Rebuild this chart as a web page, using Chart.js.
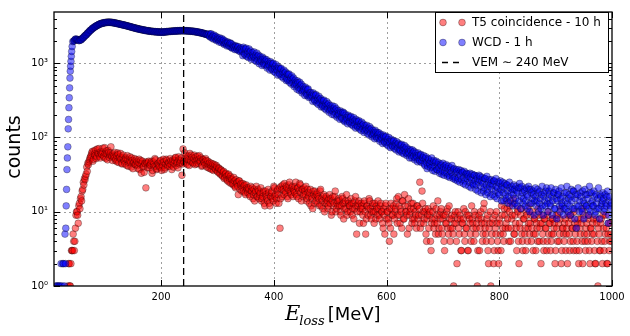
<!DOCTYPE html>
<html><head><meta charset="utf-8">
<script src="https://cdn.jsdelivr.net/npm/chart.js@4.4.1/dist/chart.umd.min.js"></script>
<style>html,body{margin:0;padding:0;background:#fff;}#wrap{width:630px;height:336px;}</style>
</head><body><div id="wrap"><canvas id="c" width="630" height="336"></canvas></div>
<script>
// Energy bins (MeV), 1 MeV wide. Counts are stored in two interleaved lists:
// "Odd" lists hold bin centres 11, 13, ..., 999 ; "Even" lists hold 12, 14, ..., 998.
const oddStart = 11;
const evenStart = 12;
const gridStep = 2;

// T5 coincidence - 10 h (null = empty bin)
const t5CountsOdd = [
null,null,null,null,null,null,null,null,null,null,null,null,
1,2,1,3,3,4,4,9,10,7,
13,15,14,20,23,27,32,35,43,50,
55,62,48,66,57,52,70,60,56,64,
59,72,54,61,66,50,63,58,75,55,
60,53,49,57,62,46,55,51,44,58,
48,53,42,50,46,55,40,49,45,52,
43,47,38,51,44,33,48,41,45,21,
45,46,39,43,48,36,44,52,41,38,
45,40,49,36,42,47,39,51,43,46,
41,48,37,50,45,53,42,47,55,44,
49,31,70,46,52,57,43,50,61,47,
54,45,58,49,44,56,51,47,53,42,
50,46,52,40,48,44,38,45,41,36,
43,37,40,34,38,32,36,30,35,29,
33,27,31,25,30,28,24,29,22,27,
25,17,26,23,19,24,22,18,23,20,
21,17,22,19,15,20,18,22,16,19,
17,21,15,18,13,19,16,14,18,12,
16,19,14,21,17,15,20,13,6,22,
16,20,24,18,21,15,23,19,17,22,
20,18,25,16,21,19,23,14,20,17,
19,22,15,18,13,20,16,11,17,19,
14,18,16,12,20,15,11,17,13,16,
14,12,17,15,10,16,13,19,11,14,
15,12,9,16,13,11,14,17,10,13,
12,15,9,13,11,16,5,12,14,10,
13,11,7,14,5,12,9,15,11,8,
12,10,13,8,11,14,9,12,10,7,
11,5,13,10,8,4,6,11,9,5,
10,13,7,16,9,11,6,14,8,12,
10,5,15,9,11,7,13,8,10,6,
12,9,25,7,19,10,8,11,4,9,
6,10,3,8,12,7,5,9,14,6,
8,11,5,9,3,7,10,6,12,4,
8,6,1,9,7,2,10,5,8,3,
7,11,4,6,9,3,8,5,12,7,
4,9,6,1,8,3,10,7,5,13,
6,4,9,2,7,1,5,8,3,6,
10,4,2,7,3,9,5,11,6,14,
8,4,12,6,9,15,5,7,3,10,
2,6,11,4,8,5,3,9,6,12,
7,4,10,5,8,3,6,11,4,7,
9,5,3,8,6,4,10,7,3,5,
8,6,2,9,4,7,5,11,3,6,
4,8,5,2,7,3,9,6,4,10,
5,3,7,2,6,8,4,11,5,3,
7,4,9,2,6,5,8,3,2,7,
1,5,3,8,2,6,4,9,2,5,
3,7,4
];
const t5CountsEven = [
null,null,null,null,null,null,null,null,null,null,null,null,
2,1,2,3,5,3,6,10,9,12,
11,16,19,25,28,30,40,45,47,53,
58,65,51,60,68,55,62,71,53,60,
64,56,73,52,60,67,54,62,57,49,
56,63,51,47,59,53,61,45,54,50,
44,51,57,41,49,46,53,38,47,43,
50,42,46,37,49,45,40,34,44,47,
39,48,42,45,33,47,41,50,37,44,
42,48,39,46,51,37,44,49,41,45,
52,43,47,40,49,54,45,39,50,46,
53,44,48,62,45,51,56,42,49,58,
46,52,43,55,50,45,57,48,41,51,
47,43,49,44,39,46,42,37,44,40,
38,42,35,39,33,37,31,34,28,32,
30,26,32,28,24,27,23,26,21,24,
22,26,20,24,21,19,23,17,21,18,
20,16,19,21,17,14,19,16,20,15,
18,14,16,19,12,17,15,20,13,16,
18,15,22,16,13,19,17,21,15,20,
23,17,19,22,16,20,25,18,21,16,
19,22,17,21,15,24,18,20,16,21,
17,14,20,16,18,12,15,19,13,16,
17,13,15,19,12,14,16,10,15,13,
11,15,13,9,14,12,16,10,13,12,
14,10,12,15,8,13,11,9,14,12,
10,13,11,8,14,12,10,13,7,11,
12,9,13,10,8,12,11,14,9,10,
13,7,10,12,9,11,8,13,10,6,
9,12,8,10,7,11,13,9,12,8,
11,15,9,12,7,10,14,8,17,10,
9,12,6,10,13,8,11,7,9,12,
8,11,6,9,13,7,10,5,8,11,
9,4,7,10,6,8,11,7,5,9,
10,6,8,4,9,7,11,5,8,6,
9,5,7,10,4,8,6,9,3,7,
8,5,10,6,3,9,7,4,8,6,
10,5,7,3,9,6,8,4,11,7,
5,8,3,6,10,4,7,2,9,5,
7,3,8,5,12,6,4,9,7,11,
6,10,4,8,13,5,9,6,11,4,
7,9,5,3,8,6,10,4,7,5,
9,6,3,8,5,7,4,9,6,2,
7,4,8,6,3,9,5,7,4,8,
5,7,3,6,9,4,8,2,6,5,
7,3,6,9,5,4,8,6,3,7,
6,4,8,3,5,7,2,9,4,6,
5,8,3,6,4,7,5,2,8,4,
6,3,7,4,9,3,5,6,2,7,
4,5
];

// WCD - 1 h (the steep rising edge below 44 MeV is listed in wcdEdge*)
const wcdCountsOdd = [
null,null,null,null,null,null,null,null,null,null,null,null,null,null,null,null,null,
1990,2070,2120,2080,2050,2020,2070,2100,2190,2250,
2340,2410,2520,2590,2710,2780,2890,2950,3050,3100,
3190,3240,3320,3350,3420,3440,3490,3500,3540,3540,
3570,3560,3575,3545,3550,3510,3505,3465,3455,3410,
3400,3360,3345,3300,3290,3250,3235,3190,3175,3130,
3115,3070,3055,3010,2995,2955,2945,2905,2895,2855,
2850,2815,2810,2775,2770,2740,2740,2710,2710,2680,
2690,2660,2665,2645,2655,2630,2640,2620,2635,2615,
2640,2635,2660,2650,2675,2675,2695,2690,2715,2710,
2720,2715,2740,2725,2745,2735,2750,2740,2750,2730,
2740,2720,2730,2710,2715,2690,2695,2665,2665,2635,
2635,2600,2595,2560,2555,2515,2505,2465,2455,2410,
2496,2263,2493,2256,2115,2270,2311,2075,2131,1934,
2014,1889,2024,2056,1838,1889,1711,1882,1700,1873,
1823,1631,1682,1525,1674,1518,1675,1517,1424,1527,
1264,1561,1297,1596,1339,1192,1402,1467,1200,1290,
1419,1183,1056,1234,1288,1051,1127,933,1145,946,
1071,1120,911,979,808,994,819,1003,834,744,
842,692,853,701,855,713,629,735,762,618,
587,718,592,524,609,633,512,546,447,545,
431,502,521,420,449,368,451,369,451,373,
349,373,307,376,309,378,314,278,323,336,
316,260,319,265,235,274,286,232,248,205,
226,201,234,244,199,213,176,217,179,220,
212,172,186,153,189,157,192,160,143,167,
134,165,137,168,140,124,146,152,124,134,
146,122,108,127,132,108,116,96,118,97,
110,115,94,101,83,103,85,104,87,77,
88,73,90,75,91,77,68,80,84,68,
66,81,67,60,70,74,60,64,53,66,
53,62,65,53,57,47,58,48,59,49,
53,44,52,46,41,50,43,48,40,46,
41,46,37,43,39,35,42,36,40,34,
39,33,38,31,36,34,30,37,29,34,
35,28,33,31,27,34,29,26,32,28,
30,25,29,27,24,31,26,23,28,25,
27,22,26,24,21,28,23,20,25,22,
24,20,23,26,19,22,21,18,24,20,
22,18,21,17,23,19,16,21,18,20,
17,20,15,19,18,14,21,16,18,15,
19,14,17,16,20,13,18,15,17,14,
16,14,18,13,15,17,12,16,14,19,
13,15,17,12,16,14,18,11,15,14,
17,12,15,13,16,11,14,18,13,15,
12,16,14,19,11,15,6,17,12,14,
16,10,14,13,17,12,15,11,18,13,
14,12,16,10,13,15,11,17,12,14,
15,11,13,16,7,14,12,13
];
const wcdCountsEven = [
null,null,null,null,null,null,null,null,null,null,null,null,null,null,null,null,null,
2010,2110,2080,2090,2020,2060,2060,2160,2200,2310,
2390,2440,2570,2640,2760,2810,2940,2990,3090,3130,
3230,3260,3350,3380,3450,3450,3510,3500,3560,3540,
3580,3555,3570,3530,3545,3490,3500,3445,3440,3390,
3395,3335,3330,3280,3285,3230,3225,3170,3165,3105,
3100,3045,3045,2985,2990,2930,2940,2880,2890,2835,
2845,2795,2805,2755,2770,2725,2740,2695,2710,2670,
2690,2650,2670,2635,2655,2620,2645,2610,2640,2615,
2655,2640,2680,2660,2695,2680,2715,2695,2730,2705,
2740,2715,2750,2725,2760,2730,2765,2735,2760,2725,
2750,2710,2735,2695,2720,2675,2700,2650,2665,2620,
2635,2580,2600,2540,2555,2490,2505,2440,2450,2385,
2313,2468,2183,2338,2399,2140,2024,2226,2074,2202,
2089,2145,1909,1793,1980,1836,1944,1741,1853,1640,
1594,1754,1634,1727,1552,1659,1467,1568,1613,1443,
1644,1335,1551,1235,1444,1555,1256,1129,1393,1230,
1096,1280,1369,1102,987,1226,1076,1209,989,1139,
961,861,1059,929,1051,855,979,774,903,960,
799,898,731,836,660,765,807,654,585,714,
702,552,638,676,543,485,591,517,579,468,
555,447,398,487,426,478,387,441,347,403,
403,354,398,323,370,292,339,359,290,258,
273,311,246,286,304,245,219,268,236,267,
245,260,210,188,230,203,229,187,215,170,
163,201,176,200,164,187,149,174,185,150,
175,143,164,130,152,161,131,117,144,127,
113,133,140,114,102,125,111,125,102,117,
99,89,109,96,108,88,101,81,94,100,
84,95,78,89,71,83,88,72,64,79,
79,62,73,78,63,57,70,61,69,57,
68,56,50,62,54,62,50,58,46,54,
57,42,55,38,52,45,39,53,36,49,
35,48,37,46,33,44,32,45,31,42,
43,30,41,29,39,42,28,38,27,37,
26,37,25,36,34,24,35,23,33,32,
22,33,21,32,23,31,20,30,19,31,
30,18,29,19,28,17,30,18,27,16,
27,17,26,16,28,15,25,17,26,14,
25,14,24,15,23,13,25,14,22,12,
23,13,22,12,21,24,11,22,13,20,
12,21,11,22,10,20,13,19,9,21,
12,20,10,19,11,22,9,18,12,21,
10,19,13,21,9,18,11,20,8,17,
19,10,21,12,9,18,11,22,10,17,
9,20,11,19,8,17,12,21,10,18,
11,19,8,20,12,17,9,22,10,18,
12,19,9,17,11,21,8,16,13,18,
10,17,12,19,9,16,11
];

// WCD rising edge (finer sampling)
const wcdEdgeEnergy = [13,15,17,19,21,22.5,24,25.5,27,28.5,29.5,30.3,30.9,31.6,32.3,33,33.7,34.5,35.2,35.8,36.5,37.1,37.7,38.3,38.9,39.5,40.1,40.7,41.4,42.2,43.3];
const wcdEdgeCounts = [1,1,1,1,1,2,1,2,2,1,5,2,6,12,20,37,53,75,131,175,252,343,466,632,783,912,1060,1240,1440,1680,1960];

const vemEnergy = 240;
const seriesLabels = ['T5 coincidence - 10 h', 'WCD - 1 h', 'VEM \u223C 240 MeV'];
const xTickValues = [200, 400, 600, 800, 1000];
const yMajorValues = [1, 10, 100, 1000];
const yMajorLabels = ['10\u2070', '10\u00B9', '10\u00B2', '10\u00B3'];
const xRange = [10, 1000];
const yRange = [1, 4900];

const redFill = 'rgba(255,0,0,0.5)';
const blueFill = 'rgba(0,0,255,0.5)';
const dotEdge = 'rgba(0,0,0,0.5)';

function toPoints(counts, start) {
  const pts = [];
  counts.forEach((c, i) => { if (c !== null) pts.push({x: start + i * gridStep, y: c}); });
  return pts;
}
const byX = (a, b) => a.x - b.x;
const t5Points = toPoints(t5CountsOdd, oddStart).concat(toPoints(t5CountsEven, evenStart)).sort(byX);
const wcdPoints = wcdEdgeEnergy.map((e, i) => ({x: e, y: wcdEdgeCounts[i]}))
  .concat(toPoints(wcdCountsOdd, oddStart), toPoints(wcdCountsEven, evenStart)).sort(byX);

const yMinorTicks = [];
[1, 10, 100, 1000].forEach(d => { for (let k = 1; k <= 9; k++) { if (d * k <= yRange[1]) yMinorTicks.push(d * k); } });

const decor = {
  id: 'decor',
  beforeDatasetsDraw(chart) {
    const {ctx, chartArea: a, scales: {x, y}} = chart;
    ctx.save();
    ctx.strokeStyle = 'rgba(0,0,0,0.38)';
    ctx.lineWidth = 1;
    ctx.setLineDash([2, 3]);
    xTickValues.forEach(v => {
      const px = Math.round(x.getPixelForValue(v)) + 0.5;
      if (px > a.left + 1 && px < a.right - 1) { ctx.beginPath(); ctx.moveTo(px, a.top); ctx.lineTo(px, a.bottom); ctx.stroke(); }
    });
    yMajorValues.forEach(v => {
      const py = Math.round(y.getPixelForValue(v)) + 0.5;
      if (py > a.top + 1 && py < a.bottom - 1) { ctx.beginPath(); ctx.moveTo(a.left, py); ctx.lineTo(a.right, py); ctx.stroke(); }
    });
    ctx.restore();
  },
  afterDraw(chart) {
    const {ctx, chartArea: a, scales: {x, y}} = chart;
    ctx.save();
    ctx.strokeStyle = '#000';
    ctx.lineWidth = 1.3;
    ctx.strokeRect(a.left, a.top, a.right - a.left, a.bottom - a.top);
    ctx.lineWidth = 1;
    yMinorTicks.forEach(v => {
      const py = Math.round(y.getPixelForValue(v)) + 0.5;
      const len = yMajorValues.includes(v) ? 6 : 3;
      ctx.beginPath();
      ctx.moveTo(a.left, py); ctx.lineTo(a.left + len, py);
      ctx.moveTo(a.right, py); ctx.lineTo(a.right - len, py);
      ctx.stroke();
    });
    xTickValues.forEach(v => {
      const px = Math.round(x.getPixelForValue(v)) + 0.5;
      ctx.beginPath();
      ctx.moveTo(px, a.bottom); ctx.lineTo(px, a.bottom - 6);
      ctx.moveTo(px, a.top); ctx.lineTo(px, a.top + 6);
      ctx.stroke();
    });
    // axis titles
    ctx.fillStyle = '#000';
    ctx.textBaseline = 'alphabetic';
    ctx.textAlign = 'left';
    let cx = 285;
    ctx.font = 'italic 21px "DejaVu Serif"';
    ctx.fillText('E', cx, 320);
    cx += ctx.measureText('E').width - 1;
    ctx.font = 'italic 13px "DejaVu Serif"';
    ctx.fillText('loss', cx, 325);
    cx += ctx.measureText('loss').width + 3;
    ctx.font = '18px "DejaVu Sans"';
    ctx.fillText('[MeV]', cx, 320);
    ctx.save();
    ctx.translate(15, 147);
    ctx.rotate(-Math.PI / 2);
    ctx.textAlign = 'center';
    ctx.textBaseline = 'middle';
    ctx.font = '19px "DejaVu Sans"';
    ctx.fillText('counts', 0, 0);
    ctx.restore();
    // legend
    const L = {left: 435.5, top: 12.5, right: 608.5, bottom: 72.5};
    ctx.fillStyle = '#fff';
    ctx.fillRect(L.left, L.top, L.right - L.left, L.bottom - L.top);
    ctx.strokeStyle = '#000';
    ctx.lineWidth = 1;
    ctx.strokeRect(L.left, L.top, L.right - L.left, L.bottom - L.top);
    const rows = [22.5, 42.5, 62.5];
    const fills = [redFill, blueFill];
    for (let r = 0; r < 2; r++) {
      [443, 462].forEach(mx => {
        ctx.beginPath();
        ctx.arc(mx, rows[r], 3.4, 0, Math.PI * 2);
        ctx.fillStyle = fills[r]; ctx.fill();
        ctx.strokeStyle = dotEdge; ctx.lineWidth = 0.6; ctx.stroke();
      });
    }
    ctx.strokeStyle = '#000';
    ctx.lineWidth = 1.3;
    ctx.setLineDash([6, 5]);
    ctx.beginPath(); ctx.moveTo(442, rows[2]); ctx.lineTo(464, rows[2]); ctx.stroke();
    ctx.setLineDash([]);
    ctx.fillStyle = '#000';
    ctx.font = '12px "DejaVu Sans"';
    ctx.textAlign = 'left';
    ctx.textBaseline = 'middle';
    seriesLabels.forEach((t, i) => ctx.fillText(t, 472, rows[i]));
    ctx.restore();
  }
};

new Chart(document.getElementById('c'), {
  type: 'scatter',
  data: {
    datasets: [
      {
        type: 'line', label: seriesLabels[2],
        data: [{x: vemEnergy, y: yRange[0]}, {x: vemEnergy, y: yRange[1]}],
        borderColor: '#000', borderWidth: 1.3, borderDash: [7, 4],
        pointRadius: 0, fill: false, order: 0
      },
      {
        label: seriesLabels[1], data: wcdPoints,
        backgroundColor: blueFill, borderColor: dotEdge, borderWidth: 0.6,
        pointRadius: 3.4, pointHoverRadius: 3.4, order: 1
      },
      {
        label: seriesLabels[0], data: t5Points,
        backgroundColor: redFill, borderColor: dotEdge, borderWidth: 0.6,
        pointRadius: 3.4, pointHoverRadius: 3.4, order: 2
      }
    ]
  },
  options: {
    responsive: false,
    animation: false,
    devicePixelRatio: 1,
    layout: {padding: {left: 0, right: 18, top: 8, bottom: 0}},
    plugins: {legend: {display: false}, tooltip: {enabled: false}},
    scales: {
      x: {
        type: 'linear', min: xRange[0], max: xRange[1],
        grid: {display: false, drawTicks: false},
        border: {display: false},
        afterBuildTicks: s => { s.ticks = xTickValues.map(v => ({value: v})); },
        afterFit: s => { s.height = 50; },
        ticks: {autoSkip: false, maxRotation: 0, padding: 5, color: '#000',
                font: {family: 'DejaVu Sans', size: 10},
                callback: v => String(v)}
      },
      y: {
        type: 'logarithmic', min: yRange[0], max: yRange[1],
        grid: {display: false, drawTicks: false},
        border: {display: false},
        afterBuildTicks: s => { s.ticks = yMinorTicks.map(v => ({value: v})); },
        afterFit: s => { s.width = 54; },
        ticks: {autoSkip: false, padding: 6, color: '#000',
                font: {family: 'DejaVu Sans', size: 10},
                callback: v => { const k = yMajorValues.indexOf(v); return k >= 0 ? yMajorLabels[k] : ''; }}
      }
    }
  },
  plugins: [decor]
});
</script>
</body></html>
